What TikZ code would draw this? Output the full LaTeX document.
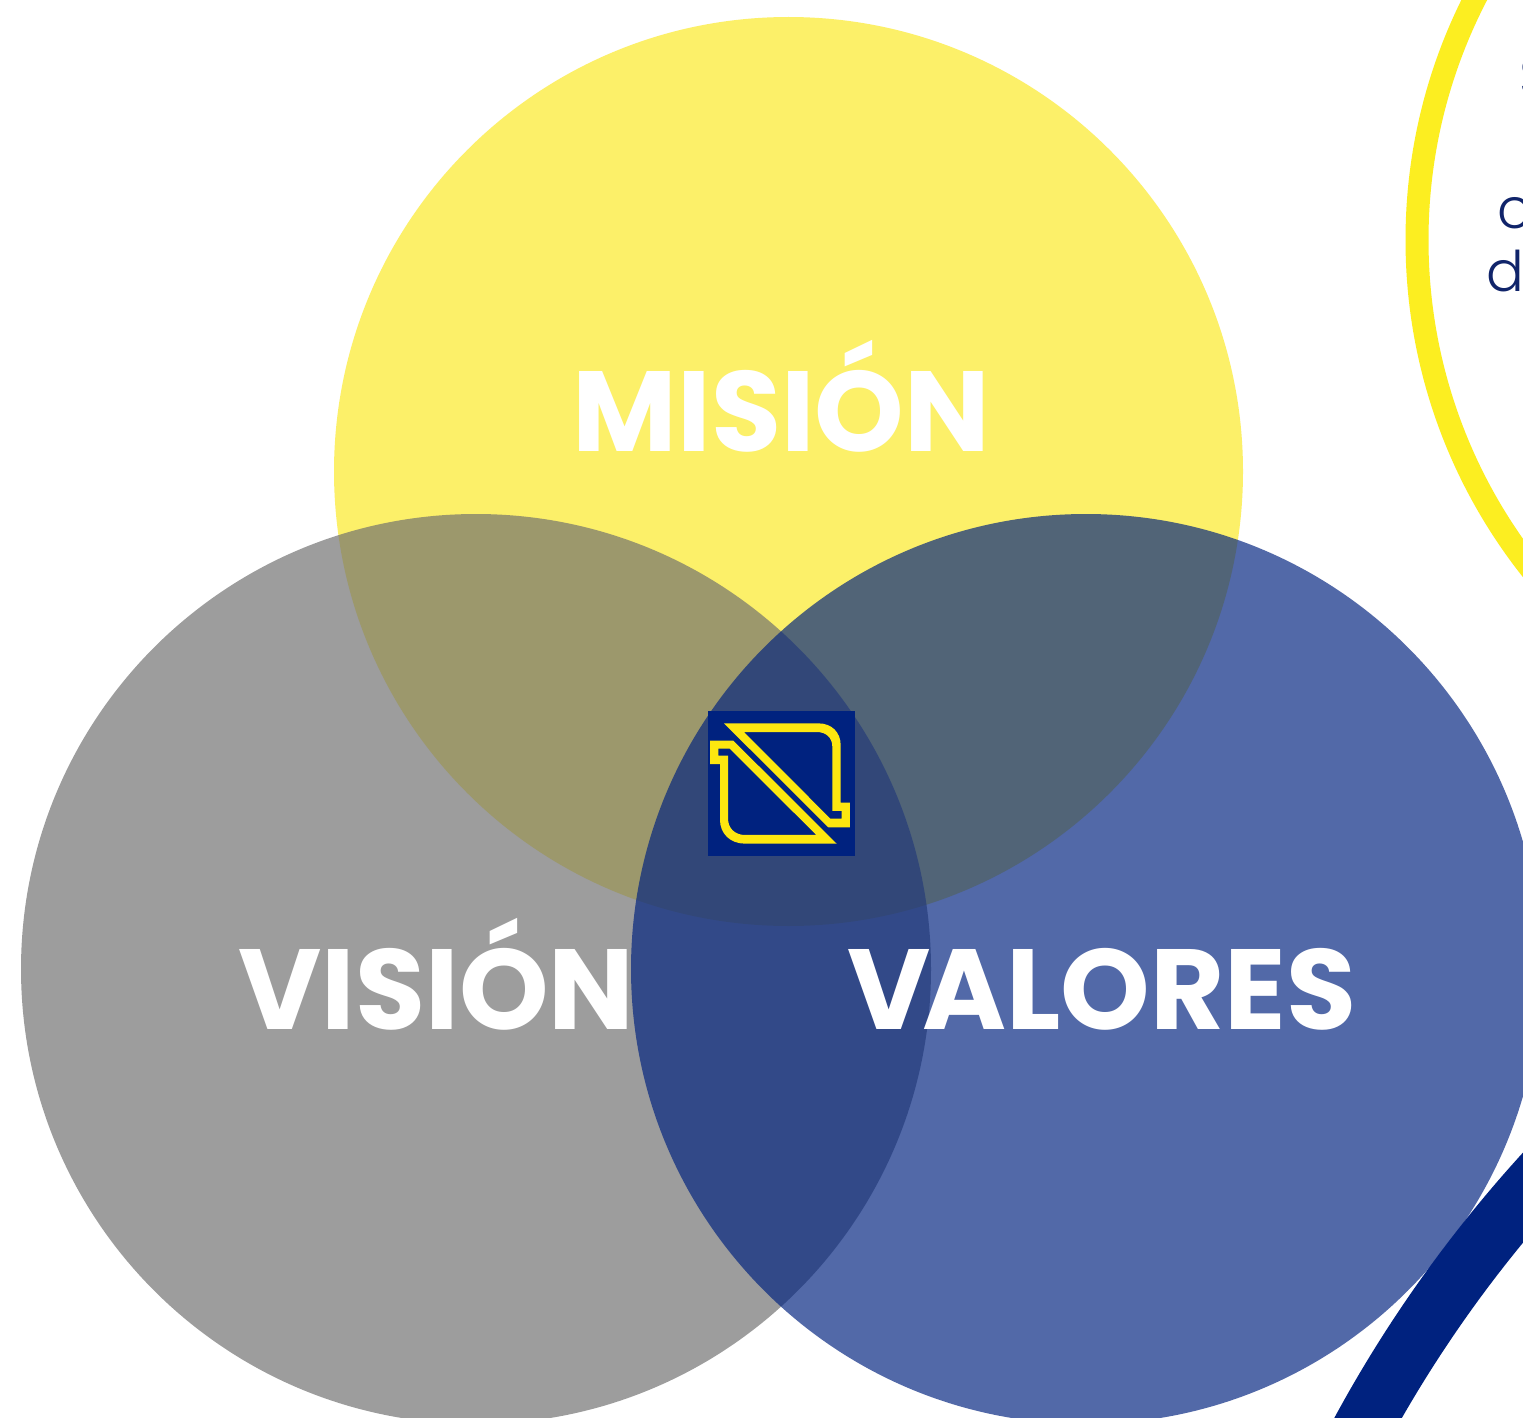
\documentclass[tikz,border=0pt]{standalone}
\usepackage{fontspec}
\setmainfont{Poppins}
\newfontfamily\popbold{Poppins}[UprightFont=* Bold]
\newfontfamily\poplight{Poppins}[UprightFont=* Light]
\definecolor{navy}{HTML}{00227F}
\definecolor{sun}{HTML}{FCEE21}
\definecolor{vennsun}{HTML}{FCEA2A}
\definecolor{ink}{HTML}{10246A}
\definecolor{logoy}{HTML}{FDE70F}
\begin{document}
\begin{tikzpicture}[x=1pt,y=-1pt,
  title/.style={text=white,font=\popbold\fontsize{114}{115}\selectfont,anchor=base,inner sep=0pt},
  cut/.style={text=ink,font=\poplight\fontsize{56}{56}\selectfont,anchor=base west,inner sep=0pt}]
\useasboundingbox (0,0) rectangle (1523,1418);
\clip (0,0) rectangle (1523,1418);
\fill[white] (0,0) rectangle (1523,1418);
% outer rings
\draw[sun,line width=23pt] (1948,240) circle[radius=531];
\draw[navy,line width=59pt] (2510,2053) circle[radius=1306.5];
% cropped text
\node[cut] (s) at (1519,97) {S};
\node[cut] (c) at (1497,228) {c};
\node[cut] (d) at (1486,291) {d};
% venn
\fill[vennsun,fill opacity=.7] (788.5,471.5) circle[radius=454.5];
\fill[black!57,fill opacity=.675] (476,969) circle[radius=455];
\fill[navy,fill opacity=.68] (1086,969) circle[radius=455];
% logo
\fill[navy] (708,711) rectangle (855,856);
\begin{scope}[shift={(690,695)},x=.3333pt,y=-.3333pt]
\fill[logoy,even odd rule]
  (102,85) -- (385,85) .. controls (425,85) and (452,112) .. (452,150) -- (452,323) -- (480,323) -- (480,397) -- (415,397) -- cycle
  (162,111) -- (421,371) -- (455,371) -- (455,348) -- (427,348) -- (427,155) .. controls (427,128) and (408,111) .. (380,111) -- cycle;
\fill[logoy,even odd rule]
  (60,137) -- (130,137) -- (440,446) -- (165,446) .. controls (120,446) and (90,415) .. (90,375) -- (90,207) -- (60,207) -- cycle
  (85,161) -- (85,182) -- (114,182) -- (114,370) .. controls (114,400) and (135,420) .. (165,420) -- (379,420) -- (119,161) -- cycle;
\end{scope}
% titles
\node[title] (mision) at (781.5,451) {MISIÓN};
\node[title] (vision) at (436.5,1029) {VISIÓN};
\node[title] (valores) at (1102,1029) {V\kern-9pt ALORES};
\end{tikzpicture}
\end{document}
